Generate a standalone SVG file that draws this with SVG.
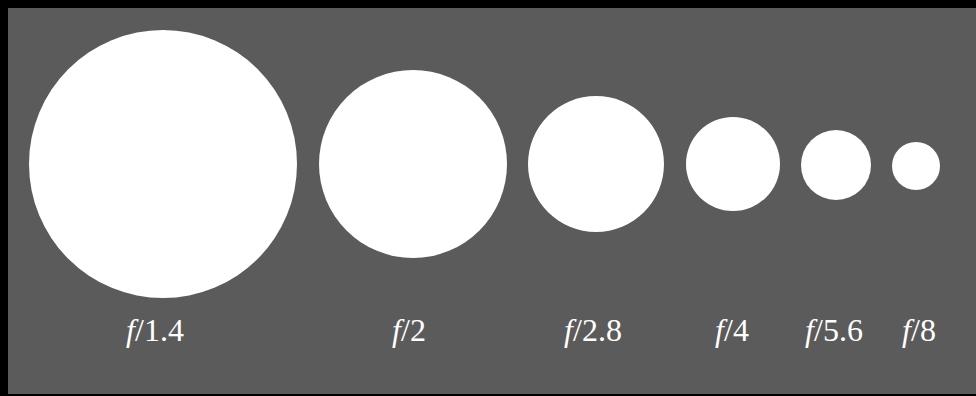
<svg xmlns="http://www.w3.org/2000/svg" width="976" height="396" viewBox="0 0 976 396">
<style>
.ap{fill:#ffffff}
.lb{font-family:"Liberation Serif","DejaVu Serif",serif;font-size:32px;fill:#ffffff;text-anchor:middle}
.i{font-style:italic}
</style>
<rect x="0" y="0" width="976" height="396" fill="#000000"/>
<rect x="8" y="8" width="968" height="386" fill="#5b5b5b"/>
<g id="n1"><circle class="ap" cx="163" cy="164" r="134"/><text class="lb" x="155" y="341"><tspan class="i">f</tspan>/1.4</text></g>
<g id="n2"><circle class="ap" cx="413" cy="164" r="94"/><text class="lb" x="409" y="341"><tspan class="i">f</tspan>/2</text></g>
<g id="n3"><circle class="ap" cx="596" cy="164" r="68"/><text class="lb" x="593" y="341"><tspan class="i">f</tspan>/2.8</text></g>
<g id="n4"><circle class="ap" cx="733" cy="164" r="47"/><text class="lb" x="732" y="341"><tspan class="i">f</tspan>/4</text></g>
<g id="n5"><circle class="ap" cx="836" cy="165" r="35"/><text class="lb" x="834" y="341"><tspan class="i">f</tspan>/5.6</text></g>
<g id="n6"><circle class="ap" cx="916" cy="166" r="24"/><text class="lb" x="919" y="341"><tspan class="i">f</tspan>/8</text></g>
<g id="connectors"></g>
</svg>
